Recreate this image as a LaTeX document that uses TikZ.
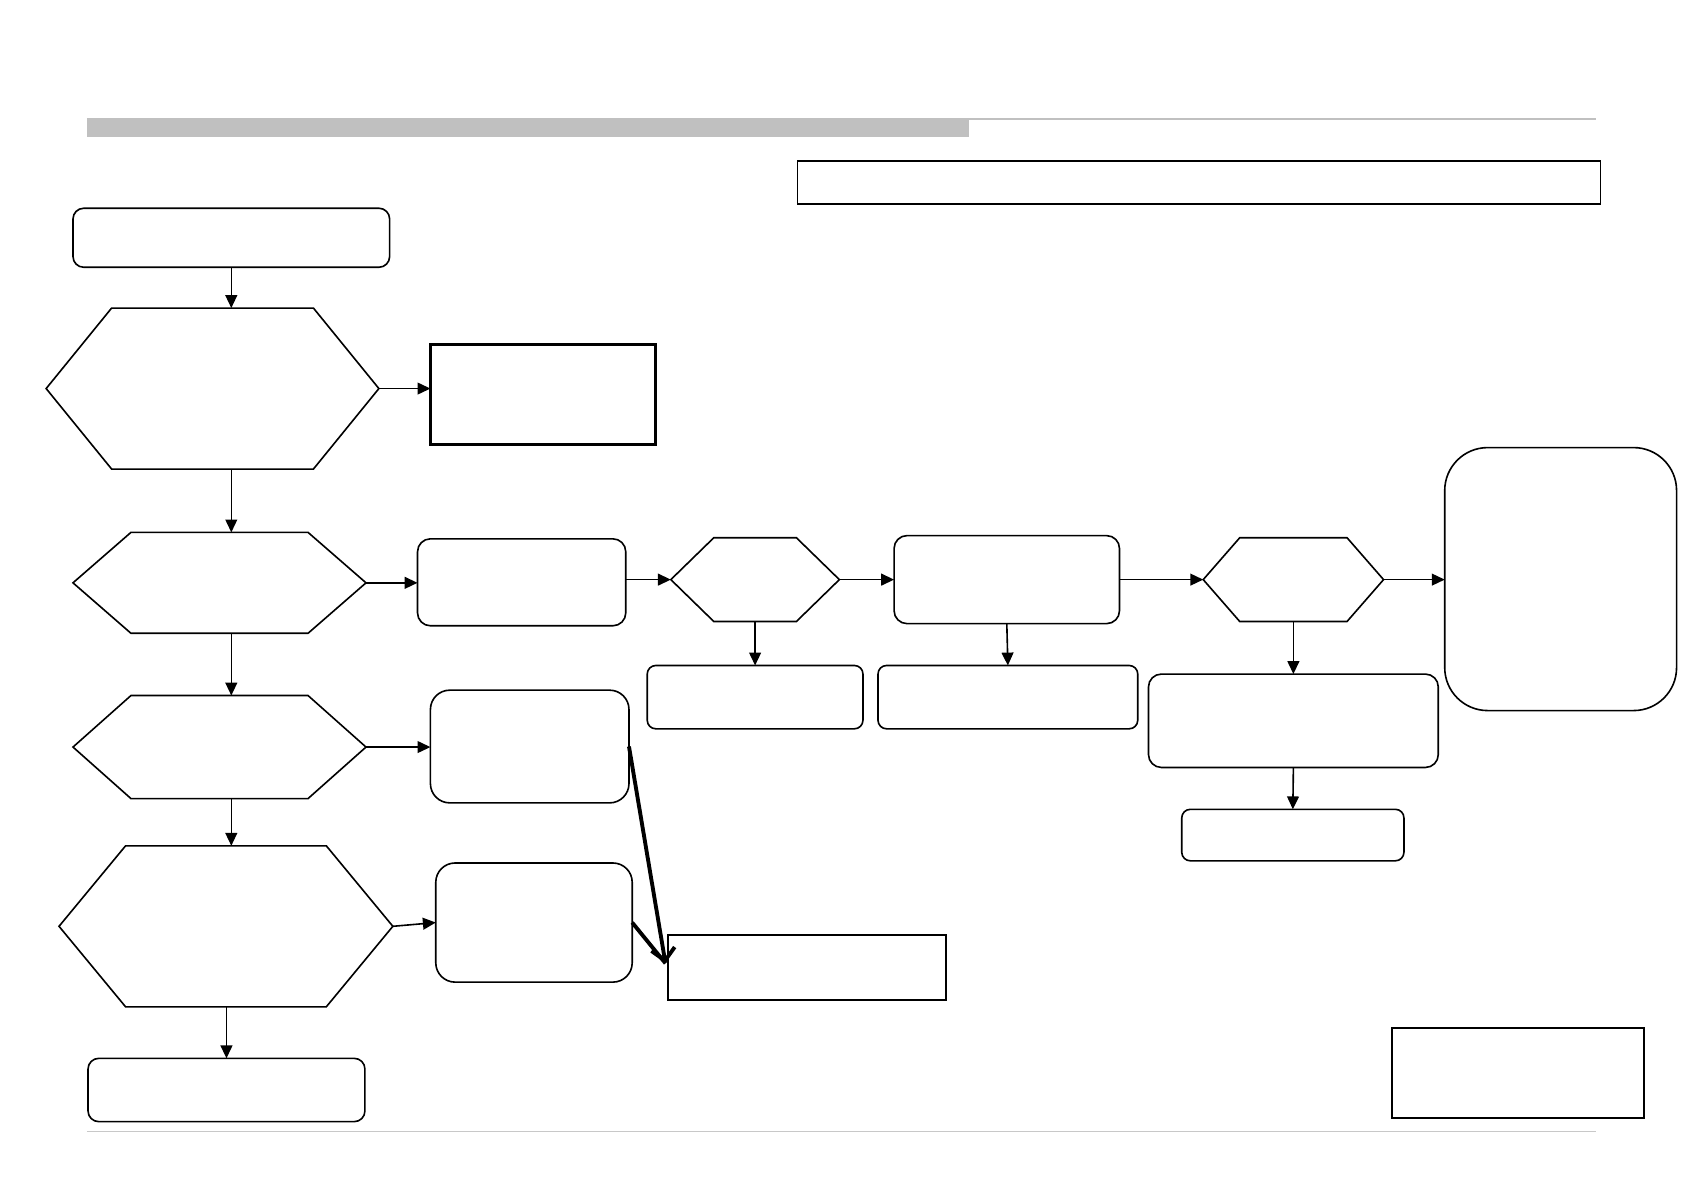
\documentclass[tikz,border=0pt]{standalone}
\usetikzlibrary{arrows.meta,calc}
\definecolor{barg}{HTML}{C0C0C0}
\definecolor{ruleg}{HTML}{C8C8C8}
\tikzset{
  x=0.5pt,y=-0.5pt,
  every node/.style={inner sep=0pt,outer sep=0pt},
  ln/.style={line width=0.75pt,line join=miter},
  rbox/.style={draw,ln,rounded corners=5pt},
  sbox/.style={draw,ln},
  thickbox/.style={draw,line width=1.5pt},
  arr/.style={ln,-{Triangle[length=6pt,width=5.5pt]}},
  bigarr/.style={line width=1.8pt,-{Straight Barb[length=5.5pt,width=11pt]}},
  bigline/.style={line width=1.8pt},
}
\newcommand{\hexnode}[6]{%
  \node[minimum width=#4pt,minimum height=#5pt] (#1) at (#2,#3) {};
  \draw[ln] (#2-#4,#3) -- (#2-#4+#6,#3-#5) -- (#2+#4-#6,#3-#5) -- (#2+#4,#3)
    -- (#2+#4-#6,#3+#5) -- (#2-#4+#6,#3+#5) -- cycle;
}
\begin{document}
\begin{tikzpicture}
\useasboundingbox[fill=white] (0,0) rectangle (1568,1110);
% header band and rules
\fill[barg] (81,110) rectangle (903,128);
\draw[barg,line width=0.9pt] (81,110.5) -- (1487,110.5);
\draw[ruleg,line width=0.5pt] (81,1054) -- (1487,1054);
% top right frame
\node[sbox,line width=0.55pt,minimum width=374pt,minimum height=20pt] (N) at (1117,170) {};
% boxes
\node[rbox,minimum width=147.5pt,minimum height=27.5pt] (A) at (215.5,221.5) {};
\node[thickbox,minimum width=105pt,minimum height=46.5pt] (T) at (506,367.5) {};
\node[rbox,rounded corners=6pt,minimum width=97pt,minimum height=40.5pt] (B) at (486,542.5) {};
\node[rbox,rounded corners=4pt,minimum width=100.5pt,minimum height=29.5pt] (C) at (703.5,649.5) {};
\node[rbox,rounded corners=6pt,minimum width=105pt,minimum height=41pt] (D) at (938,540) {};
\node[rbox,rounded corners=4pt,minimum width=121pt,minimum height=29.5pt] (E) at (939,649.5) {};
\node[rbox,rounded corners=20pt,minimum width=108pt,minimum height=122.5pt] (F) at (1454,539.5) {};
\node[rbox,rounded corners=6pt,minimum width=135pt,minimum height=43.5pt] (G) at (1205,671.5) {};
\node[rbox,rounded corners=4pt,minimum width=103.5pt,minimum height=24pt] (H) at (1204.5,778) {};
\node[rbox,rounded corners=9pt,minimum width=92.5pt,minimum height=52.5pt] (I) at (493.5,695.5) {};
\node[rbox,rounded corners=9pt,minimum width=91.5pt,minimum height=55.5pt] (J) at (497.5,859.5) {};
\node[sbox,line width=0.9pt,minimum width=129.5pt,minimum height=30.5pt] (K) at (751.5,901.5) {};
\node[rbox,minimum width=129pt,minimum height=29.5pt] (L) at (211,1015.5) {};
\node[sbox,line width=0.9pt,minimum width=117.5pt,minimum height=42pt] (M) at (1414.5,1000) {};
% hexagons
\hexnode{h1}{198}{362}{155}{75}{61}
\hexnode{h2}{204.5}{543}{136.5}{47}{54}
\hexnode{h3}{204.5}{696}{136.5}{48}{54}
\hexnode{h4}{210.5}{863}{155.5}{75}{62}
\hexnode{h5}{703.5}{540}{78.5}{39}{40}
\hexnode{h6}{1205}{540}{84}{39}{34}
% connectors
\draw[arr] (A.south) -- (A.south |- h1.north);
\draw[arr] (A.south |- h1.south) -- (A.south |- h2.north);
\draw[arr] (A.south |- h2.south) -- (A.south |- h3.north);
\draw[arr] (A.south |- h3.south) -- (A.south |- h4.north);
\draw[arr] (L.north |- h4.south) -- (L.north);
\draw[arr] (h1.east) -- (T.west |- h1.east);
\draw[arr] (h2.east) -- (B.west |- h2.east);
\draw[arr] (h3.east) -- (I.west |- h3.east);
\draw[arr] (h4.east) -- (J.west);
\draw[arr] (B.east |- h5.west) -- (h5.west);
\draw[arr] (h5.east) -- (D.west);
\draw[arr] (h5.south) -- (C.north);
\draw[arr] (D.south) -- (E.north);
\draw[arr] (D.east) -- (h6.west);
\draw[arr] (h6.east) -- (F.west |- h6.east);
\draw[arr] (h6.south) -- (G.north);
\draw[arr] (G.south) -- (H.north);
\coordinate (tip) at ($(K.west)+(-2,-4)$);
\draw[bigline] (J.east) -- (tip);
\draw[bigarr] (I.east) -- (tip);
\end{tikzpicture}
\end{document}
